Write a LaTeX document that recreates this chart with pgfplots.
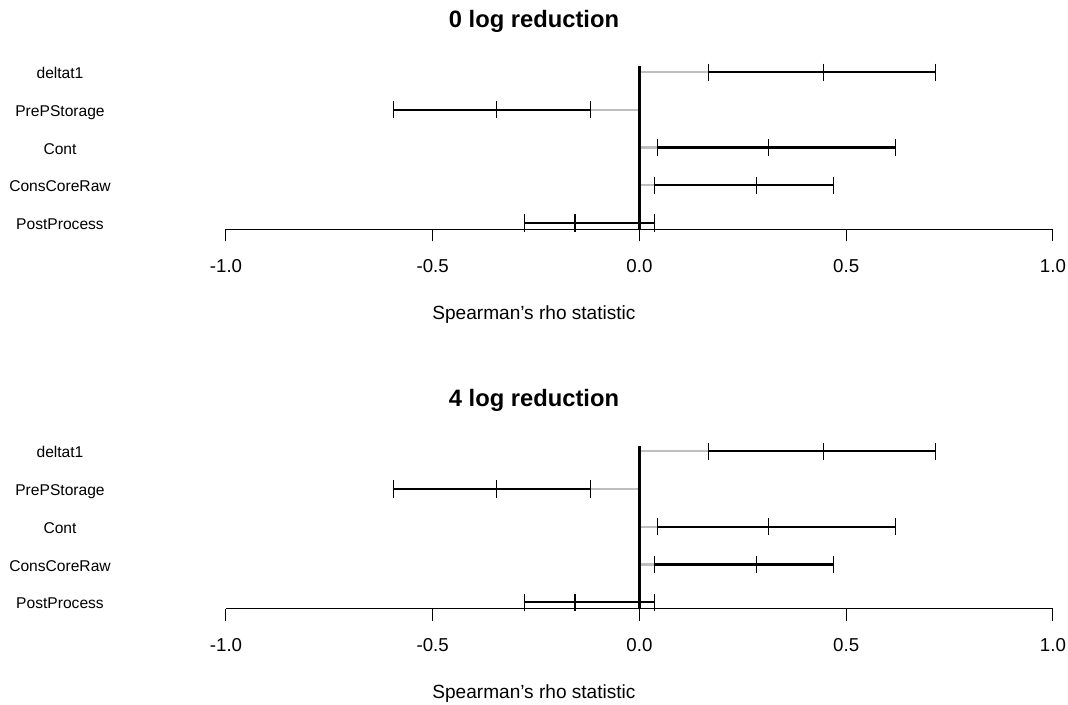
\documentclass[border=0pt]{standalone}
\usepackage{pgfplots}
\pgfplotsset{compat=1.18}
\usepackage{fontspec}
\setmainfont{Liberation Sans}

\definecolor{rgrey}{HTML}{BEBEBE}

% one panel = bottom axis only, category names left, centred on the figure
\pgfplotsset{
  rhopanel/.style={
    x=310.1pt, y=28.3pt,
    xmin=-1, xmax=1, ymin=0.833, ymax=5.15,
    anchor=south west, clip=false,
    axis x line*=bottom, axis y line*=left,
    y axis line style={draw=none},
    x axis line style={line width=0.75pt},
    tick align=outside, major tick length=9pt,
    tick style={black, line width=0.75pt},
    ytick style={draw=none},
    xtick={-1,-0.5,0,0.5,1},
    xticklabels={-1.0,-0.5,0.0,0.5,1.0},
    ytick={1,2,3,4,5},
    yticklabels={PostProcess,ConsCoreRaw,Cont,PrePStorage,deltat1},
    xticklabel style={font=\fontsize{14}{16}\selectfont, anchor=base, yshift=-23.5pt},
    yticklabel style={font=\fontsize{11.7}{13}\selectfont, anchor=base, xshift=-115.5pt, yshift=-5pt},
    xlabel={Spearman's rho statistic},
    xlabel style={font=\fontsize{14.3}{16}\selectfont, at={(axis description cs:0.3724,0)}, anchor=base, yshift=-67.3pt},
    title style={font=\bfseries\fontsize{17.8}{20}\selectfont, at={(axis description cs:0.3724,1)}, anchor=base, yshift=23pt},
  },
  greyseg/.style={rgrey, line width=1.7pt},
  ci/.style={black, line width=1.8pt, mark=|, mark size=6.4pt, mark options={solid, line width=0.8pt}},
}

\newcommand{\rhobars}{
  \addplot[greyseg] coordinates {(0,5) (0.168,5)};
  \addplot[greyseg] coordinates {(-0.119,4) (0,4)};
  \addplot[greyseg] coordinates {(0,3) (0.0435,3)};
  \addplot[greyseg] coordinates {(0,2) (0.036,2)};
  \addplot[ci] coordinates {(0.168,5) (0.444,5) (0.716,5)};
  \addplot[ci] coordinates {(-0.595,4) (-0.345,4) (-0.119,4)};
  \addplot[ci] coordinates {(0.0435,3) (0.312,3) (0.620,3)};
  \addplot[ci] coordinates {(0.036,2) (0.282,2) (0.469,2)};
  \addplot[ci] coordinates {(-0.278,1) (-0.156,1) (0.037,1)};
  \addplot[black, line width=2pt] coordinates {(0,0.833) (0,5.15)};
}

\begin{document}
\begin{tikzpicture}
\useasboundingbox (0,0) rectangle (801pt,528pt);

\begin{axis}[rhopanel, at={(169.5pt,356pt)}, title={0 log reduction}]
\rhobars
\end{axis}

\begin{axis}[rhopanel, at={(169.5pt,71.6pt)}, title={4 log reduction}]
\rhobars
\end{axis}
\end{tikzpicture}
\end{document}
